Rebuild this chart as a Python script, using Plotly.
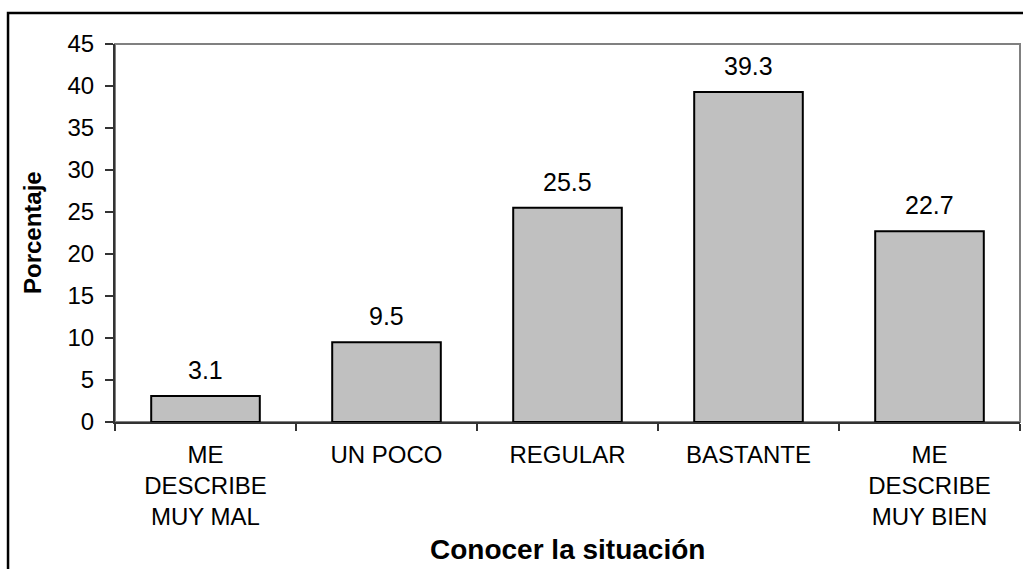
import plotly.graph_objects as go

# Survey answers: "Conocer la situación"
categorias = ["ME<br>DESCRIBE<br>MUY MAL", "UN POCO", "REGULAR", "BASTANTE", "ME<br>DESCRIBE<br>MUY BIEN"]
porcentajes = [3.1, 9.5, 25.5, 39.3, 22.7]
etiquetas = ["3.1", "9.5", "25.5", "39.3", "22.7"]
y_ticks = [0, 5, 10, 15, 20, 25, 30, 35, 40, 45]

FONT = "Liberation Sans, Arial, sans-serif"

fig = go.Figure(
    go.Bar(
        x=categorias,
        y=porcentajes,
        marker=dict(color="#C0C0C0", line=dict(color="#000000", width=2)),
        hoverinfo="skip",
    )
)

# value labels above each bar
for cat, val, lab in zip(categorias, porcentajes, etiquetas):
    fig.add_annotation(
        x=cat, y=val, text=lab, showarrow=False,
        yanchor="bottom", yshift=10,
        font=dict(family=FONT, size=25, color="#000000"),
    )

# axis titles
fig.add_annotation(
    xref="paper", yref="paper", x=-0.0917, y=0.5,
    text="<b>Porcentaje</b>", textangle=-90, showarrow=False,
    xanchor="center", yanchor="middle",
    font=dict(family=FONT, size=24, color="#000000"),
)
fig.add_annotation(
    xref="paper", yref="paper", x=0.5, y=-0.336,
    text="<b>Conocer la situación</b>", showarrow=False,
    xanchor="center", yanchor="middle",
    font=dict(family=FONT, size=28, color="#000000"),
)

# plot-area frame (top/right) and outer chart border
fig.add_shape(type="rect", xref="paper", yref="paper", x0=0, x1=1, y0=0, y1=1,
              line=dict(color="#808080", width=2), layer="below")
fig.add_shape(type="rect", xref="paper", yref="paper", x0=-0.1182, x1=1.05, y0=-0.5, y1=1.082,
              line=dict(color="#000000", width=2.5), layer="below")

fig.update_layout(
    width=1023, height=569,
    margin=dict(l=115, r=3, t=44, b=147),
    paper_bgcolor="#FFFFFF", plot_bgcolor="#FFFFFF",
    bargap=0.4,
    showlegend=False,
    font=dict(family=FONT, color="#000000"),
)
fig.update_xaxes(
    type="category",
    tickson="boundaries",
    ticks="outside", ticklen=7, tickcolor="#333333", tickwidth=1.5,
    showline=True, linecolor="#333333", linewidth=2,
    showgrid=False, zeroline=False,
    tickfont=dict(family=FONT, size=24, color="#000000"),
    ticklabelstandoff=10,
)
fig.update_yaxes(
    range=[0, 45], tickvals=y_ticks,
    ticks="outside", ticklen=8, tickcolor="#333333", tickwidth=1.5,
    showline=True, linecolor="#333333", linewidth=2,
    showgrid=False, zeroline=False,
    tickfont=dict(family=FONT, size=24, color="#000000"),
    ticklabelstandoff=6,
)

fig.write_html("out.html")
